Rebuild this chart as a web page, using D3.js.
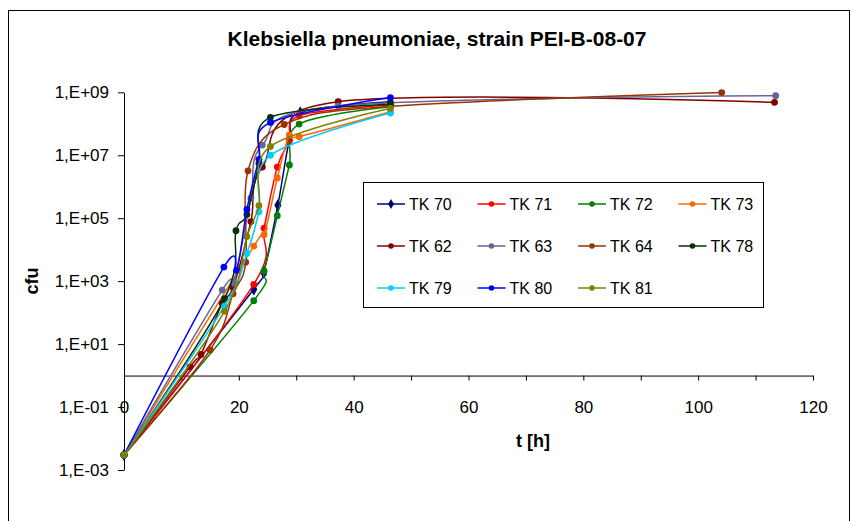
<!DOCTYPE html>
<html>
<head>
<meta charset="utf-8">
<script src="https://cdn.jsdelivr.net/npm/d3@7"></script>
<style>
  body { margin: 0; background: #fff; }
  svg { display: block; font-family: "Liberation Sans", Arial, sans-serif; }
  .axis path, .axis line { stroke: #000; stroke-width: 1; }
  .axis text { font-size: 17px; fill: #000; }
</style>
</head>
<body>
<div id="chart"></div>
<script>
const width = 852;
const height = 521;

const seriesNames = ["TK 70", "TK 71", "TK 72", "TK 73", "TK 62", "TK 63", "TK 64", "TK 78", "TK 79", "TK 80", "TK 81"];

// time [h] and cfu per strain
const tk70Time = [0, 22.6, 24.3, 26.8, 28.8, 30.7, 46.4];
const tk70Cfu = [3e-3, 5.5e2, 1.9e3, 2.6e5, 3.0e7, 2.3e8, 5.0e8];
const tk71Time = [0, 22.6, 24.4, 26.7, 28.8, 30.5, 46.4];
const tk71Cfu = [3e-3, 7.9e2, 4.8e4, 4.2e6, 2.9e7, 1.8e8, 4.0e8];
const tk72Time = [0, 22.6, 24.4, 26.7, 28.8, 30.5, 46.4];
const tk72Cfu = [3e-3, 2.4e2, 2.1e3, 1.2e5, 4.9e6, 9.8e7, 3.5e8];
const tk73Time = [0, 22.6, 24.4, 26.7, 28.8, 30.5, 46.4];
const tk73Cfu = [3e-3, 1.3e4, 3.0e4, 1.9e6, 4.4e7, 3.9e7, 2.4e8];
const tk62Time = [0, 11.5, 13.4, 17.1, 19.0, 22.1, 24.1, 37.3, 113.3];
const tk62Cfu = [3e-3, 1.9, 4.7, 2.0e2, 6.2e2, 7.8e4, 4.2e6, 5.0e8, 4.8e8];
const tk63Time = [0, 17.1, 19.1, 22.1, 24.1, 37.3, 113.5];
const tk63Cfu = [3e-3, 5.2e2, 9.1e2, 4.3e5, 2.1e7, 3.7e8, 7.8e8];
const tk64Time = [0, 15.0, 19.0, 21.2, 21.6, 27.9, 46.4, 104.1];
const tk64Cfu = [3e-3, 6.5, 4.0e2, 4.0e3, 3.2e6, 9.5e7, 3.6e8, 9.8e8];
const tk78Time = [0, 17.5, 19.5, 21.4, 23.5, 25.5, 46.4];
const tk78Cfu = [3e-3, 2.8e2, 4.0e4, 1.3e5, 5.5e6, 1.6e8, 4.2e8];
const tk79Time = [0, 17.5, 21.4, 23.5, 25.5, 46.4];
const tk79Cfu = [3e-3, 1.6e2, 7.6e3, 1.6e5, 1.0e7, 2.2e8];
const tk80Time = [0, 17.4, 19.6, 21.4, 23.5, 25.5, 46.4];
const tk80Cfu = [3e-3, 2.8e3, 2.2e3, 1.9e5, 7.4e6, 1.1e8, 6.8e8];
const tk81Time = [0, 17.5, 21.4, 23.5, 25.5, 46.4];
const tk81Cfu = [3e-3, 1.1e2, 2.6e4, 2.5e5, 1.9e7, 3.1e8];

const yTicks = [1e-3, 1e-1, 1e1, 1e3, 1e5, 1e7, 1e9];
const yTickLabels = ["1,E-03", "1,E-01", "1,E+01", "1,E+03", "1,E+05", "1,E+07", "1,E+09"];
const xTicks = [0, 10, 20, 30, 40, 50, 60, 70, 80, 90, 100, 110, 120];

const seriesColors = ["#000080", "#ff0000", "#008000", "#ff6600", "#800000", "#666699", "#993300", "#003300", "#00ccff", "#0000ff", "#808000"];

const series = [
  [tk70Time, tk70Cfu], [tk71Time, tk71Cfu], [tk72Time, tk72Cfu], [tk73Time, tk73Cfu],
  [tk62Time, tk62Cfu], [tk63Time, tk63Cfu], [tk64Time, tk64Cfu], [tk78Time, tk78Cfu],
  [tk79Time, tk79Cfu], [tk80Time, tk80Cfu], [tk81Time, tk81Cfu],
].map(([t, v], i) => ({
  name: seriesNames[i],
  color: seriesColors[i],
  diamond: i === 0,
  values: t.map((time, j) => ({ time, cfu: v[j] })),
}));

const svg = d3.select("#chart")
  .append("svg")
  .attr("width", width)
  .attr("height", height);

svg.append("rect")
  .attr("x", 8.5)
  .attr("y", 10.5)
  .attr("width", 841)
  .attr("height", 540)
  .attr("fill", "#fff")
  .attr("stroke", "#000")
  .attr("stroke-width", 1);

const x = d3.scaleLinear().domain([0, 120]).range([124, 813]);
const y = d3.scaleLog().domain([1e-3, 1e9]).range([470, 92.3]);

svg.append("text")
  .attr("x", 437)
  .attr("y", 46)
  .attr("text-anchor", "middle")
  .style("font-size", "21px")
  .style("font-weight", "bold")
  .text("Klebsiella pneumoniae, strain PEI-B-08-07");

svg.append("g")
  .attr("class", "axis")
  .attr("transform", "translate(124,0)")
  .call(d3.axisLeft(y)
    .tickValues(yTicks)
    .tickFormat((d, i) => yTickLabels[i])
    .tickSize(6)
    .tickSizeOuter(0)
    .tickPadding(9));

svg.append("g")
  .attr("class", "axis")
  .attr("transform", `translate(0,${y(1)})`)
  .call(d3.axisBottom(x)
    .tickValues(xTicks)
    .tickFormat(d => d % 20 === 0 ? d : "")
    .tickSize(5)
    .tickSizeOuter(0)
    .tickPadding(20));

svg.append("text")
  .attr("transform", "translate(38,281) rotate(-90)")
  .attr("text-anchor", "middle")
  .style("font-size", "18px")
  .style("font-weight", "bold")
  .text("cfu");

svg.append("text")
  .attr("x", 533)
  .attr("y", 447)
  .attr("text-anchor", "middle")
  .style("font-size", "18px")
  .style("font-weight", "bold")
  .text("t [h]");

const line = d3.line()
  .x(d => x(d.time))
  .y(d => y(d.cfu))
  .curve(d3.curveCardinal.tension(0));

const diamond = d3.symbol().type(d3.symbolDiamond).size(45);

const groups = svg.selectAll(".series")
  .data(series)
  .join("g")
  .attr("class", "series");

groups.append("path")
  .attr("d", d => line(d.values))
  .attr("fill", "none")
  .attr("stroke", d => d.color)
  .attr("stroke-width", 1.5);

groups.each(function(s) {
  const g = d3.select(this);
  if (s.diamond) {
    g.selectAll("path.mark")
      .data(s.values)
      .join("path")
      .attr("class", "mark")
      .attr("d", diamond)
      .attr("transform", d => `translate(${x(d.time)},${y(d.cfu)})`)
      .attr("fill", s.color);
  } else {
    g.selectAll("circle")
      .data(s.values)
      .join("circle")
      .attr("cx", d => x(d.time))
      .attr("cy", d => y(d.cfu))
      .attr("r", 3.4)
      .attr("fill", s.color);
  }
});

// legend
const legend = svg.append("g");

legend.append("rect")
  .attr("x", 363.5)
  .attr("y", 182.5)
  .attr("width", 400)
  .attr("height", 125)
  .attr("fill", "#fff")
  .attr("stroke", "#000")
  .attr("stroke-width", 1);

const items = legend.selectAll(".item")
  .data(series)
  .join("g")
  .attr("class", "item")
  .attr("transform", (d, i) => `translate(${377 + (i % 4) * 100.5},${204 + Math.floor(i / 4) * 42})`);

items.append("line")
  .attr("x1", 0)
  .attr("x2", 28)
  .attr("stroke", d => d.color)
  .attr("stroke-width", 1.5);

items.each(function(s) {
  const g = d3.select(this);
  if (s.diamond) {
    g.append("path")
      .attr("d", d3.symbol().type(d3.symbolDiamond).size(30))
      .attr("transform", "translate(14,0)")
      .attr("fill", s.color);
  } else {
    g.append("circle")
      .attr("cx", 14)
      .attr("r", 2.8)
      .attr("fill", s.color);
  }
});

items.append("text")
  .attr("x", 32)
  .attr("dy", "0.36em")
  .style("font-size", "16px")
  .text(d => d.name);
</script>
</body>
</html>
